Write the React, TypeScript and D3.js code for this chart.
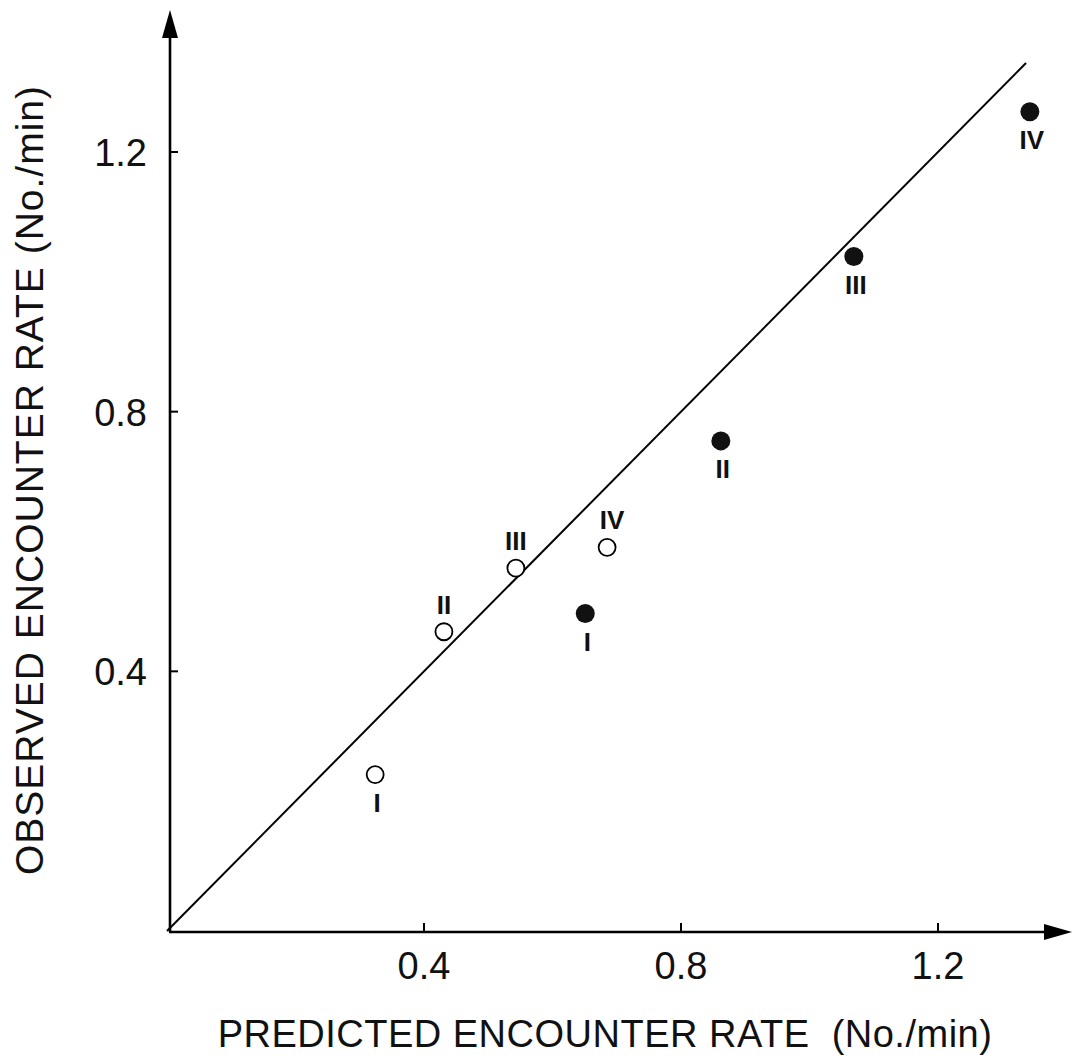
import React from "react";
import * as d3 from "d3";

const openLabels = ["I", "II", "III", "IV"];
const openPredicted = [0.324, 0.431, 0.543, 0.685];
const openObserved = [0.241, 0.461, 0.559, 0.591];

const filledLabels = ["I", "II", "III", "IV"];
const filledPredicted = [0.651, 0.862, 1.069, 1.343];
const filledObserved = [0.489, 0.755, 1.039, 1.262];

const xTicks = [0.4, 0.8, 1.2];
const yTicks = [0.4, 0.8, 1.2];
const lineExtent = [0, 1.337];

const xTitle = "PREDICTED ENCOUNTER RATE  (No./min)";
const yTitle = "OBSERVED ENCOUNTER RATE (No./min)";

const W = 1074;
const H = 1058;
const FONT = "'Liberation Sans', Arial, Helvetica, sans-serif";

export default function App() {
  const x = d3.scaleLinear().domain([0, 1.2]).range([167, 938]);
  const y = d3.scaleLinear().domain([0, 1.2]).range([931, 152]);
  const x0 = x(0) + 3;
  const y0 = y(0);
  const line = d3
    .line<number>()
    .x((d) => x(d))
    .y((d) => y(d));

  return (
    <svg
      width={W}
      height={H}
      style={{ position: "absolute", left: 0, top: 0, background: "#fff" }}
      fontFamily={FONT}
    >
      <rect x={0} y={0} width={W} height={H} fill="#fff" />
      {/* axes */}
      <line x1={x0} y1={y0 + 1} x2={x0} y2={34} stroke="#000" strokeWidth={2.6} />
      <path d={`M${x0},10 L${x0 - 8},38 L${x0 + 8},38 Z`} fill="#000" />
      <line x1={x0 - 1} y1={y0 + 1} x2={1048} y2={y0 + 1} stroke="#000" strokeWidth={2.4} />
      <path d={`M1072,${y0 + 1} L1044,${y0 - 7} L1044,${y0 + 9} Z`} fill="#000" />

      {/* ticks */}
      {xTicks.map((t) => (
        <g key={"xt" + t}>
          <line x1={x(t)} x2={x(t)} y1={y0 + 1} y2={y0 - 8} stroke="#000" strokeWidth={2} />
          <text
            x={x(t)}
            y={y0 + 48}
            textAnchor="middle"
            fontSize={38}
            fill="#111"
          >
            {t.toFixed(1)}
          </text>
        </g>
      ))}
      {yTicks.map((t) => (
        <g key={"yt" + t}>
          <line x1={x0} x2={x0 + 8} y1={y(t)} y2={y(t)} stroke="#000" strokeWidth={2} />
          <text
            x={147}
            y={y(t) + 14}
            textAnchor="end"
            fontSize={38}
            fill="#111"
          >
            {t.toFixed(1)}
          </text>
        </g>
      ))}

      {/* 1:1 line */}
      <path d={line(lineExtent) || ""} fill="none" stroke="#000" strokeWidth={2} />

      {/* open circles */}
      {openPredicted.map((p, i) => (
        <g key={"o" + i}>
          <circle cx={x(p)} cy={y(openObserved[i])} r={8.5} fill="#fff" stroke="#000" strokeWidth={1.8} />
          <text
            x={x(p) + (i === 0 ? 2 : i === 3 ? 5 : 0)}
            y={i === 0 ? y(openObserved[i]) + 37 : y(openObserved[i]) - 18}
            textAnchor="middle"
            fontSize={26}
            fontWeight="bold"
            fill="#111"
          >
            {openLabels[i]}
          </text>
        </g>
      ))}

      {/* filled circles */}
      {filledPredicted.map((p, i) => (
        <g key={"f" + i}>
          <circle cx={x(p)} cy={y(filledObserved[i])} r={9.5} fill="#111" />
          <text
            x={x(p) + 2}
            y={y(filledObserved[i]) + 37}
            textAnchor="middle"
            fontSize={26}
            fontWeight="bold"
            fill="#111"
          >
            {filledLabels[i]}
          </text>
        </g>
      ))}

      {/* titles */}
      <text
        x={605}
        y={1047}
        textAnchor="middle"
        fontSize={38}
        letterSpacing={0.5}
        fill="#111"
        style={{ whiteSpace: "pre" }}
        xmlSpace="preserve"
      >
        {xTitle}
      </text>
      <text
        transform={`translate(43,480) rotate(-90)`}
        textAnchor="middle"
        fontSize={39}
        letterSpacing={1}
        fill="#111"
      >
        {yTitle}
      </text>
    </svg>
  );
}
